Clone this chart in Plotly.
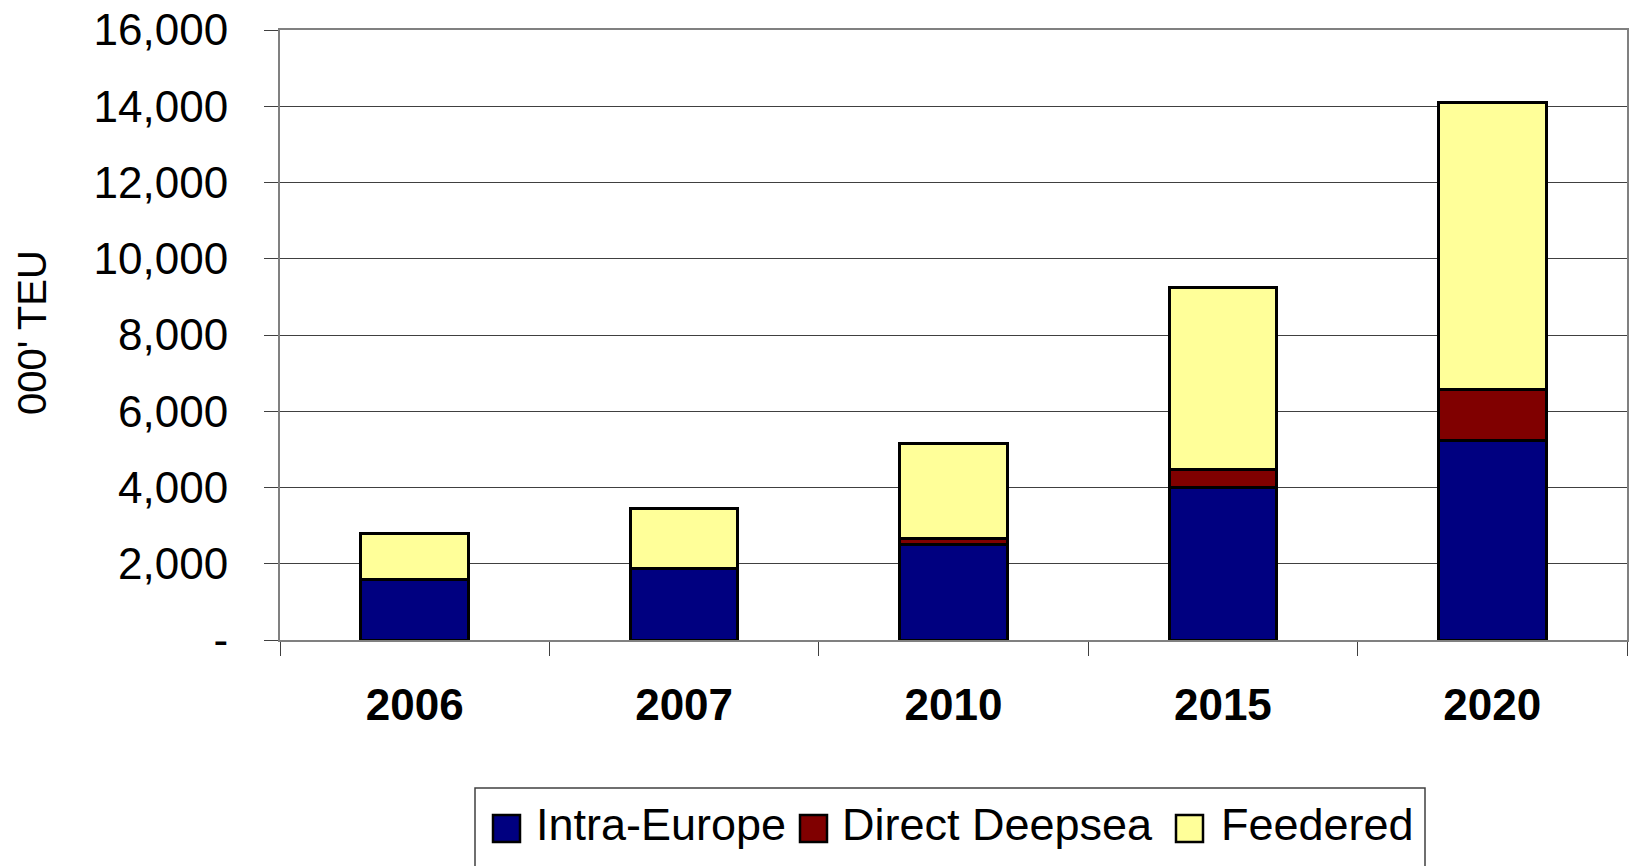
import plotly.graph_objects as go

years = ["2006", "2007", "2010", "2015", "2020"]
intra_europe = [1580, 1870, 2500, 4000, 5220]
direct_deepsea = [0, 0, 170, 470, 1340]
feedered = [1210, 1570, 2480, 4780, 7540]

series_names = ["Intra-Europe", "Direct Deepsea", "Feedered"]
series_colors = ["#000080", "#800000", "#FFFF99"]

tick_vals = [0, 2000, 4000, 6000, 8000, 10000, 12000, 14000, 16000]
tick_text = ["-", "2,000", "4,000", "6,000", "8,000", "10,000", "12,000", "14,000", "16,000"]

FONT = "Liberation Sans, Arial, sans-serif"
line = dict(color="black", width=3)

fig = go.Figure()
for name, vals, col in zip(series_names, [intra_europe, direct_deepsea, feedered], series_colors):
    fig.add_trace(go.Bar(name=name, x=years, y=vals, showlegend=False,
                         marker=dict(color=col, line=line)))

W, H = 1631, 866
L, R, T = 280, 4, 30
ph = 610
B = H - T - ph
pw = W - L - R

def px(xf):
    return (xf - L) / pw

def py(yf):
    return (H - B - yf) / ph

fig.update_layout(
    barmode="stack",
    bargap=0.6,
    width=W, height=H,
    margin=dict(l=L, r=R, t=T, b=B, autoexpand=False),
    paper_bgcolor="white", plot_bgcolor="white",
    font=dict(family=FONT, color="black", size=44),
    showlegend=False,
)
fig.update_xaxes(
    type="category", automargin=False,
    showline=True, linecolor="#808080", linewidth=2, mirror=True,
    ticks="outside", tickson="boundaries", ticklen=14, tickcolor="#404040",
    tickfont=dict(size=44, family=FONT, color="black", weight="bold"),
    ticklabelstandoff=25,
    showgrid=False,
)
fig.update_yaxes(
    range=[0, 16000], automargin=False,
    tickvals=tick_vals, ticktext=tick_text,
    showline=True, linecolor="#808080", linewidth=2, mirror=True,
    ticks="outside", ticklen=14, tickcolor="#404040",
    tickfont=dict(size=44, family=FONT, color="black"),
    ticklabelstandoff=27, ticklabeloverflow="allow",
    showgrid=True, gridcolor="#404040", gridwidth=1,
    zeroline=False,
)
fig.add_annotation(text="000' TEU", textangle=-90,
                   x=px(32), y=py(333),
                   xref="paper", yref="paper", xanchor="center", yanchor="middle",
                   showarrow=False,
                   font=dict(size=40, family=FONT, color="black"))

# Legend drawn by hand (page pixel coordinates)
fig.add_shape(type="rect", xref="paper", yref="paper",
              x0=px(475), x1=px(1425), y0=py(788), y1=py(880),
              line=dict(color="#404040", width=1.5), fillcolor="white", layer="above")
swatch_x = [493, 800, 1176]
text_x = [534, 840, 1219]
for name, col, sx, tx in zip(series_names, series_colors, swatch_x, text_x):
    fig.add_shape(type="rect", xref="paper", yref="paper",
                  x0=px(sx), x1=px(sx + 27), y0=py(815), y1=py(842),
                  line=dict(color="black", width=2.5), fillcolor=col, layer="above")
    fig.add_annotation(text=name, x=px(tx), y=py(824), xref="paper", yref="paper",
                       xanchor="left", yanchor="middle", showarrow=False,
                       font=dict(size=45, family=FONT, color="black"))

fig.write_html("out.html",
               config={"displayModeBar": False},
               post_script="document.body.style.margin='0';")
